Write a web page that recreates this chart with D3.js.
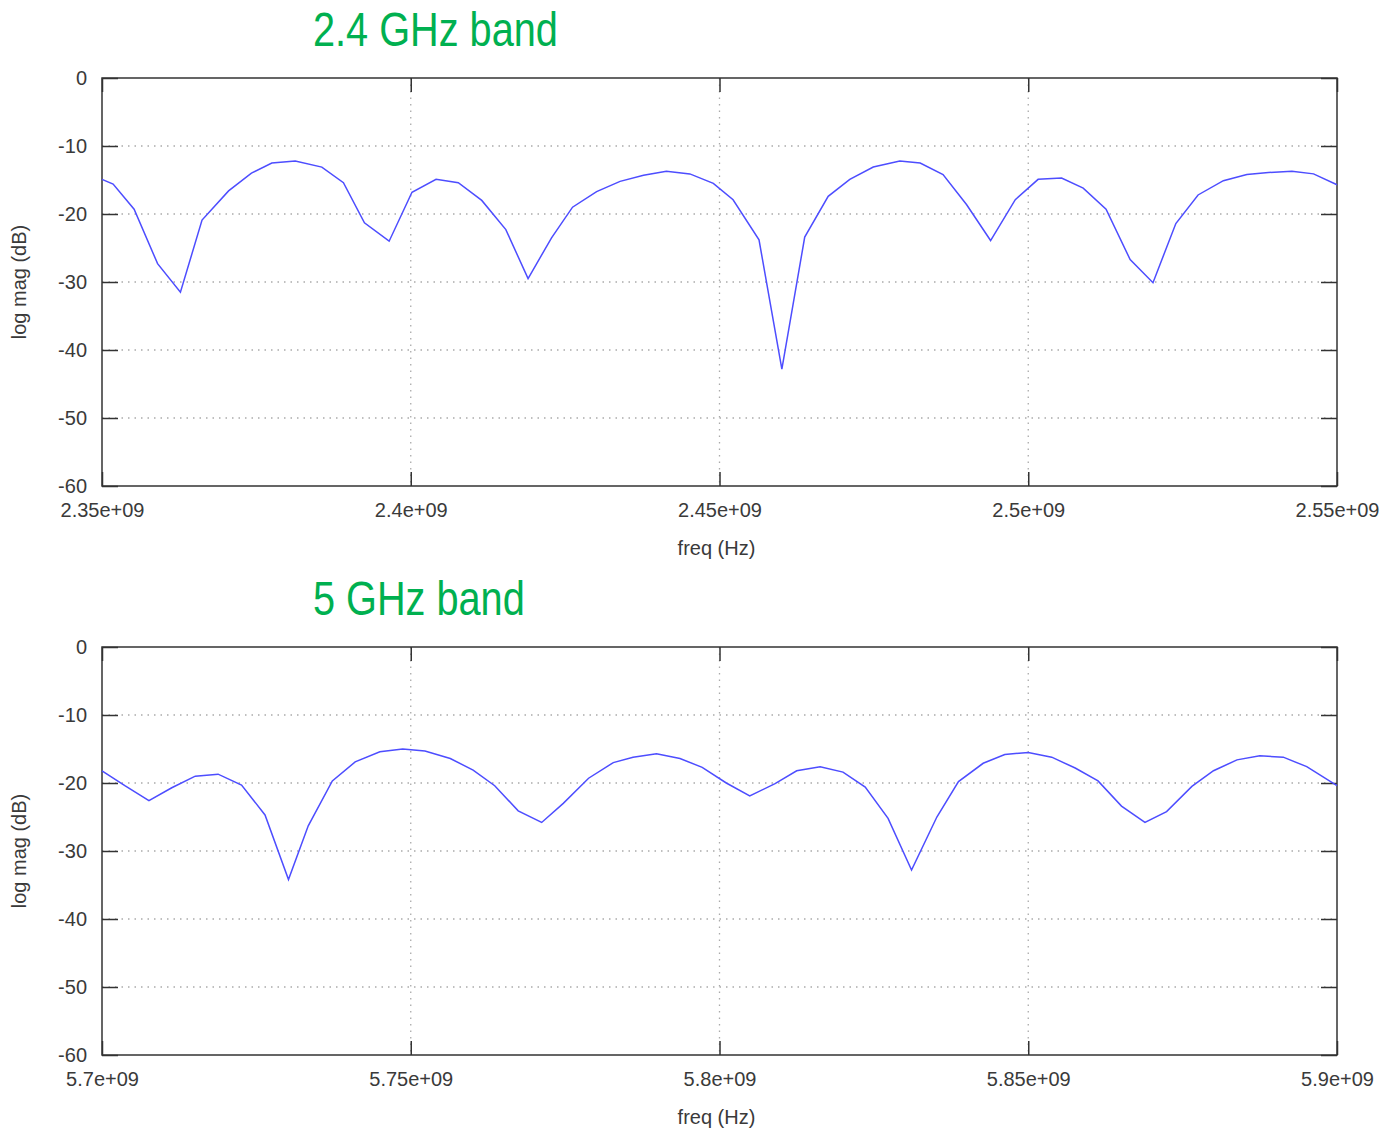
<html lang="en">
  <head>
    <meta charset="utf-8">
    <title>Return loss</title>
    <script src="https://d3js.org/d3.v7.min.js"></script>
    <style>
    body { margin: 0; background: #fff; }
    .chart text { font-family: "Liberation Sans", Arial, sans-serif; fill: #3a3a3a; }
    .title { fill: #00b050 !important; font-size: 49px; }
    .tick line { stroke: #333; stroke-width: 1.5; }
    .tick text { font-size: 20px; }
    .grid line { stroke: #aaa; stroke-width: 1.3; stroke-dasharray: 1.5,5; }
    </style>
  </head>
  <body>
    <svg class="chart" width="1395" height="1131"></svg>
    <script>
      // frequency in MHz, magnitude in dB
      var freq24 = [2350, 2351.8, 2355.2, 2359.0, 2362.7, 2366.2, 2370.5, 2374.2, 2377.5, 2381.3,
                    2385.6, 2389.1, 2392.5, 2396.5, 2400.2, 2404.1, 2407.7, 2411.5, 2415.4, 2419.0,
                    2422.8, 2426.2, 2430.1, 2433.9, 2437.7, 2441.4, 2445.2, 2449.0, 2452.2, 2456.4,
                    2460.1, 2463.8, 2467.6, 2471.1, 2474.9, 2479.2, 2482.5, 2486.2, 2490.0, 2493.9,
                    2497.9, 2501.6, 2505.4, 2508.9, 2512.6, 2516.5, 2520.2, 2523.9, 2527.5, 2531.6,
                    2535.4, 2538.9, 2542.7, 2546.2, 2550];
      var mag24 = [-14.9, -15.6, -19.3, -27.3, -31.5, -20.9, -16.6, -14.0, -12.5, -12.2,
                   -13.1, -15.4, -21.3, -24.0, -16.8, -14.9, -15.4, -18.0, -22.3, -29.5,
                   -23.5, -19.0, -16.7, -15.2, -14.3, -13.7, -14.1, -15.5, -17.9, -23.8,
                   -42.8, -23.4, -17.4, -14.9, -13.1, -12.2, -12.5, -14.2, -18.6, -23.9,
                   -17.9, -14.9, -14.7, -16.2, -19.3, -26.7, -30.1, -21.4, -17.2, -15.1,
                   -14.2, -13.9, -13.7, -14.1, -15.7];

      var freq5 = [5700, 5703.7, 5707.6, 5711.3, 5715.1, 5718.8, 5722.6, 5726.4, 5730.2, 5733.4,
                   5737.3, 5741.0, 5745.0, 5748.7, 5752.3, 5756.4, 5760.1, 5763.6, 5767.4, 5771.2,
                   5774.7, 5778.8, 5782.8, 5786.0, 5789.8, 5793.6, 5797.2, 5801.1, 5804.9, 5809.0,
                   5812.5, 5816.3, 5820.0, 5823.6, 5827.3, 5831.1, 5835.2, 5838.7, 5842.7, 5846.2,
                   5850.0, 5853.8, 5857.6, 5861.3, 5865.1, 5868.9, 5872.4, 5876.5, 5880.0, 5883.8,
                   5887.5, 5891.3, 5895.1, 5900];
      var mag5 = [-18.2, -20.4, -22.6, -20.7, -19.0, -18.7, -20.3, -24.7, -34.2, -26.3,
                  -19.7, -16.9, -15.4, -15.0, -15.3, -16.4, -18.1, -20.4, -24.1, -25.8,
                  -23.0, -19.3, -17.0, -16.2, -15.7, -16.4, -17.7, -20.0, -21.9, -20.1,
                  -18.2, -17.6, -18.4, -20.6, -25.2, -32.8, -25.0, -19.8, -17.1, -15.8,
                  -15.5, -16.2, -17.8, -19.7, -23.4, -25.8, -24.2, -20.5, -18.2, -16.6,
                  -16.0, -16.2, -17.6, -20.4];

      var yTicks = [0, -10, -20, -30, -40, -50, -60];
      var xTicks24 = [2350, 2400, 2450, 2500, 2550];
      var xLabels24 = ["2.35e+09", "2.4e+09", "2.45e+09", "2.5e+09", "2.55e+09"];
      var xTicks5 = [5700, 5750, 5800, 5850, 5900];
      var xLabels5 = ["5.7e+09", "5.75e+09", "5.8e+09", "5.85e+09", "5.9e+09"];

      var svg = d3.select(".chart");
      var left = 102, width = 1235, height = 408;

      function panel(top, title, freqs, mags, xTicks, xLabels) {
        var g = svg.append("g").attr("transform", "translate(" + left + "," + top + ")");
        var x = d3.scaleLinear().domain([xTicks[0], xTicks[xTicks.length - 1]]).range([0, width]);
        var y = d3.scaleLinear().domain([-60, 0]).range([height, 0]);

        // dotted grid
        var grid = g.append("g").attr("class", "grid");
        grid.selectAll(".h").data(yTicks.slice(1, -1)).enter().append("line")
          .attr("x1", 0).attr("x2", width)
          .attr("y1", function(d) { return y(d); }).attr("y2", function(d) { return y(d); });
        grid.selectAll(".v").data(xTicks.slice(1, -1)).enter().append("line")
          .attr("y1", 0).attr("y2", height)
          .attr("x1", function(d) { return x(d); }).attr("x2", function(d) { return x(d); });

        g.append("g").call(d3.axisLeft(y).tickValues(yTicks).tickSizeInner(-16).tickSizeOuter(0).tickPadding(15)
          .tickFormat(function(d) { return String(d); }));
        g.append("g").attr("transform", "translate(" + width + ",0)")
          .call(d3.axisRight(y).tickValues(yTicks).tickSizeInner(-16).tickSizeOuter(0).tickFormat(""));
        g.append("g").attr("transform", "translate(0," + height + ")")
          .call(d3.axisBottom(x).tickValues(xTicks).tickSizeInner(-14).tickSizeOuter(0).tickPadding(17)
            .tickFormat(function(d, i) { return xLabels[i]; }));
        g.append("g")
          .call(d3.axisTop(x).tickValues(xTicks).tickSizeInner(-14).tickSizeOuter(0).tickFormat(""));
        g.selectAll(".domain").remove();
        g.selectAll(".tick text").attr("font-family", null).attr("font-size", null);

        g.append("rect").attr("width", width).attr("height", height)
          .attr("fill", "none").attr("stroke", "#333").attr("stroke-width", 1.5);

        var line = d3.line()
          .x(function(d, i) { return x(freqs[i]); })
          .y(function(d) { return y(d); });
        g.append("path").datum(mags).attr("d", line)
          .attr("fill", "none").attr("stroke", "#4d4dff").attr("stroke-width", 1.5);

        g.append("text").attr("x", width / 2 - 3).attr("y", height + 69)
          .attr("text-anchor", "middle").attr("font-size", 20).text("freq (Hz)");
        g.append("text").attr("transform", "translate(-76," + (height / 2) + ") rotate(-90)")
          .attr("text-anchor", "middle").attr("font-size", 20).text("log mag (dB)");

        svg.append("text").attr("class", "title")
          .attr("transform", "translate(313," + (top - 32) + ") scale(0.81,1)").text(title);
      }

      panel(78, "2.4 GHz band", freq24, mag24, xTicks24, xLabels24);
      panel(647, "5 GHz band", freq5, mag5, xTicks5, xLabels5);
    </script>
  </body>
</html>
